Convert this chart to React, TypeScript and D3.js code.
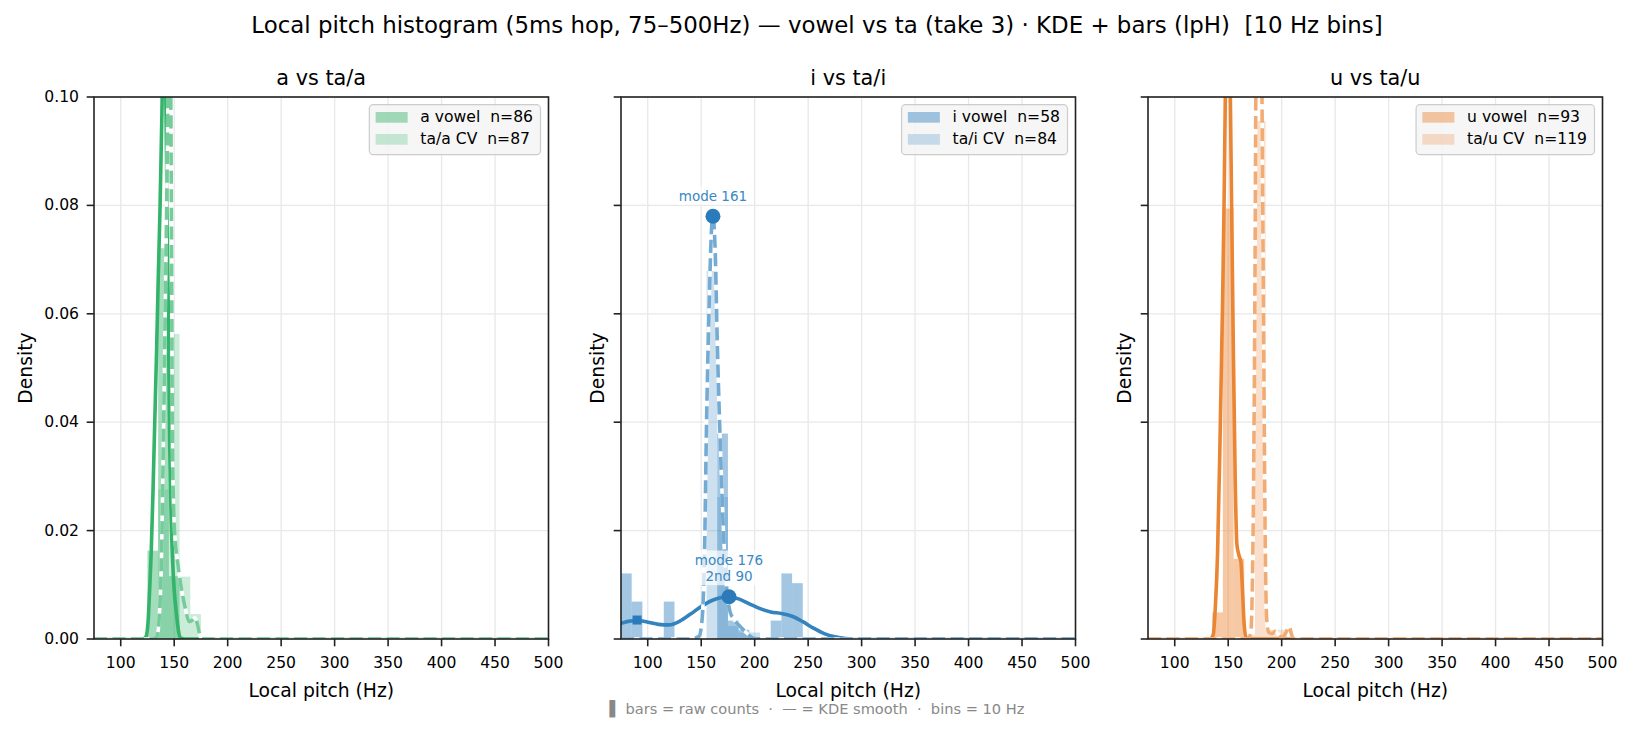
import React from "react";
import * as d3 from "d3";

const W = 1634;
const H = 732;
const FONT = "'DejaVu Sans', sans-serif";

const X_DOMAIN: [number, number] = [75, 500];
const Y_DOMAIN: [number, number] = [0, 0.1];
const X_TICKS = [100, 150, 200, 250, 300, 350, 400, 450, 500];
const Y_TICKS = [0, 0.02, 0.04, 0.06, 0.08, 0.1];
const BIN_W = 10;

const TITLE = "Local pitch histogram (5ms hop, 75–500Hz) — vowel vs ta (take 3) · KDE + bars (lpH)  [10 Hz bins]";
const FOOTER = "▌ bars = raw counts  ·  — = KDE smooth  ·  bins = 10 Hz";

// bins: [left edge Hz, density]
const aVowelBins: [number, number][] = [[125, 0.0163], [135, 0.0721], [145, 0.0116]];
const aCvBins: [number, number][] = [[135, 0.0276], [145, 0.0563], [155, 0.0115], [165, 0.0046]];
const iVowelBins: [number, number][] = [
  [75, 0.0121], [85, 0.0069], [115, 0.0069], [165, 0.0379], [175, 0.0034],
  [185, 0.0017], [215, 0.0034], [225, 0.0121], [235, 0.0103],
];
const iCvBins: [number, number][] = [[155, 0.0679], [165, 0.0262], [175, 0.0024], [185, 0.0012], [195, 0.0012]];
const uVowelBins: [number, number][] = [[135, 0.0049], [145, 0.0794], [155, 0.0148]];
const uCvBins: [number, number][] = [[165, 0.0008], [175, 0.0956], [185, 0.0017], [195, 0.0017]];

// KDE curves: [Hz, density]
const aVowelKde: [number, number][] = [
  [75, 0], [120, 0], [123.5, 0.0004], [125.5, 0.003], [127, 0.009], [128.5, 0.016], [130, 0.026],
  [131.8, 0.04], [133.5, 0.053], [135, 0.066], [136.8, 0.08], [138.5, 0.097], [140.5, 0.12],
  [142.2, 0.1], [143.2, 0.082], [144.4, 0.062], [145.8, 0.036], [147.2, 0.022], [148.5, 0.0145],
  [150, 0.009], [152, 0.0048], [154, 0.0015], [156, 0.0002], [160, 0], [500, 0],
];
const aCvKde: [number, number][] = [
  [75, 0], [130, 0], [134, 0.0005], [136, 0.004], [138, 0.014], [139.7, 0.034], [141.6, 0.06],
  [143.1, 0.082], [144.2, 0.1], [145.5, 0.116], [146.8, 0.1], [147.6, 0.068], [148.4, 0.035],
  [149.5, 0.024], [151, 0.018], [153, 0.0145], [156, 0.0102], [160, 0.006], [164, 0.0032],
  [167, 0.0035], [169.5, 0.0039], [172, 0.0025], [174.5, 0.0004], [178, 0], [500, 0],
];
const iVowelKde: [number, number][] = [
  [75, 0.0029], [83, 0.0033], [91, 0.0034], [100, 0.0031], [110, 0.0027], [120, 0.0026],
  [130, 0.0033], [140, 0.0046], [150, 0.006], [160, 0.0071], [170, 0.0077], [176, 0.0078],
  [185, 0.0074], [195, 0.0065], [205, 0.0056], [215, 0.005], [225, 0.0047], [235, 0.0042],
  [245, 0.0032], [255, 0.002], [265, 0.001], [275, 0.0004], [285, 0.0001], [300, 0], [500, 0],
];
const iCvKde: [number, number][] = [
  [75, 0], [140, 0], [148, 0.0005], [151, 0.004], [153, 0.015], [155, 0.04], [157.5, 0.062],
  [159.5, 0.075], [161, 0.078], [163, 0.072], [165, 0.055], [168, 0.035], [171, 0.019],
  [174, 0.009], [177, 0.005], [180, 0.0038], [186, 0.0024], [192, 0.0012], [200, 0.0001],
  [210, 0], [500, 0],
];
const uVowelKde: [number, number][] = [
  [75, 0], [133, 0], [136, 0.0008], [138, 0.006], [140, 0.0155], [142.2, 0.035], [144.7, 0.0616],
  [146.2, 0.0814], [147.3, 0.1], [149.5, 0.118], [152, 0.1], [153.1, 0.0814], [154.7, 0.055],
  [156.6, 0.0287], [158.1, 0.0175], [160, 0.0155], [161.9, 0.0142], [163.4, 0.0089],
  [165, 0.0025], [167, 0.0002], [170, 0], [500, 0],
];
const uCvKde: [number, number][] = [
  [75, 0], [168, 0], [171, 0.001], [172.5, 0.009], [174, 0.035], [175, 0.065], [175.8, 0.1],
  [178.6, 0.2], [181.6, 0.1], [183, 0.06], [184.4, 0.022], [186, 0.0036], [188, 0.0012],
  [191, 0.001], [194, 0.0014], [197, 0.0009], [200.5, 0.0003], [204, 0.0012], [207, 0.0023],
  [209, 0.001], [211, 0], [500, 0],
];

const iModes = [
  { hz: 161, d: 0.078, lines: ["mode 161"] },
  { hz: 176, d: 0.0078, lines: ["mode 176", "2nd 90"] },
];
const iSecond = { hz: 90, d: 0.0035 };

interface Panel {
  title: string;
  color: string;
  vowelLabel: string;
  cvLabel: string;
  vowelBins: [number, number][];
  cvBins: [number, number][];
  vowelKde: [number, number][];
  cvKde: [number, number][];
  left: number;
}

const PANELS: Panel[] = [
  { title: "a vs ta/a", color: "#34b36a", vowelLabel: "a vowel  n=86", cvLabel: "ta/a CV  n=87",
    vowelBins: aVowelBins, cvBins: aCvBins, vowelKde: aVowelKde, cvKde: aCvKde, left: 94 },
  { title: "i vs ta/i", color: "#3283be", vowelLabel: "i vowel  n=58", cvLabel: "ta/i CV  n=84",
    vowelBins: iVowelBins, cvBins: iCvBins, vowelKde: iVowelKde, cvKde: iCvKde, left: 621 },
  { title: "u vs ta/u", color: "#ea8533", vowelLabel: "u vowel  n=93", cvLabel: "ta/u CV  n=119",
    vowelBins: uVowelBins, cvBins: uCvBins, vowelKde: uVowelKde, cvKde: uCvKde, left: 1148 },
];

const PW = 454.5;
const TOP = 97;
const BOTTOM = 639;

function measure(text: string, size: number) {
  const c = document.createElement("canvas").getContext("2d");
  if (!c) return text.length * size * 0.55;
  c.font = `${size}px 'DejaVu Sans'`;
  return c.measureText(text).width;
}

function PanelView({ p, idx }: { p: Panel; idx: number }) {
  const x = d3.scaleLinear().domain(X_DOMAIN).range([p.left, p.left + PW]);
  const y = d3.scaleLinear().domain(Y_DOMAIN).range([BOTTOM, TOP]);
  const line = d3
    .line<[number, number]>()
    .x((d) => x(d[0]))
    .y((d) => y(d[1]))
    .curve(d3.curveMonotoneX);
  const clipId = `clip-${idx}`;
  const cx = p.left + PW / 2;

  // legend
  const legFs = 15.6;
  const tw = Math.max(measure(p.vowelLabel, legFs), measure(p.cvLabel, legFs));
  const legW = 6.3 + 32 + 12.7 + tw + 7.5;
  const legX = p.left + PW - 8 - legW;
  const legY = TOP + 7.7;

  return (
    <g>
      <defs>
        <clipPath id={clipId}>
          <rect x={p.left} y={TOP} width={PW} height={BOTTOM - TOP} />
        </clipPath>
      </defs>
      {/* grid */}
      {X_TICKS.map((t) => (
        <line key={`gx${t}`} x1={x(t)} x2={x(t)} y1={TOP} y2={BOTTOM} stroke="#e8e8e8" strokeWidth={1.3} />
      ))}
      {Y_TICKS.map((t) => (
        <line key={`gy${t}`} x1={p.left} x2={p.left + PW} y1={y(t)} y2={y(t)} stroke="#e8e8e8" strokeWidth={1.3} />
      ))}
      <g clipPath={`url(#${clipId})`}>
        {p.vowelBins.map(([b, d]) => (
          <rect key={`vb${b}`} x={x(b)} y={y(d)} width={x(b + BIN_W) - x(b)} height={BOTTOM - y(d)}
            fill={p.color} fillOpacity={0.45} />
        ))}
        {p.cvBins.map(([b, d]) => (
          <rect key={`cb${b}`} x={x(b)} y={y(d)} width={x(b + BIN_W) - x(b)} height={BOTTOM - y(d)}
            fill={p.color} fillOpacity={0.25} />
        ))}
        <path d={line(p.vowelKde) ?? ""} fill="none" stroke={p.color} strokeWidth={3.6} strokeLinejoin="round" />
        <path d={line(p.cvKde) ?? ""} fill="none" stroke="#fff" strokeWidth={3.6} strokeLinejoin="round" />
        <path d={line(p.cvKde) ?? ""} fill="none" stroke={p.color} strokeOpacity={0.68} strokeWidth={3.6}
          strokeDasharray="13,5.5" strokeLinejoin="round" />
      </g>
      {idx === 1 && (
        <g>
          <rect x={x(iSecond.hz) - 4.5} y={y(iSecond.d) - 4.5} width={9} height={9} fill="#2b7bba" />
          {iModes.map((m) => {
            const mx = x(m.hz);
            const my = y(m.d);
            const n = m.lines.length;
            const lh = 16.7;
            const w = Math.max(...m.lines.map((l) => measure(l, 13.5)));
            return (
              <g key={`mode${m.hz}`}>
                <rect x={mx - w / 2 - 2} y={my - 20.5 - (n - 1) * lh - 9} width={w + 4} height={(n - 1) * lh + 18}
                  fill="#fff" fillOpacity={0.7} />
                {m.lines.map((l, i) => (
                  <text key={l} x={mx} y={my - 20.5 - (n - 1 - i) * lh} textAnchor="middle" dominantBaseline="central"
                    fontSize={13.5} fill="#3a88c4">{l}</text>
                ))}
                <circle cx={mx} cy={my} r={7.5} fill="#2b7bba" />
              </g>
            );
          })}
        </g>
      )}
      {/* spines */}
      <rect x={p.left} y={TOP} width={PW} height={BOTTOM - TOP} fill="none" stroke="#222" strokeWidth={1.6} />
      {/* x ticks */}
      {X_TICKS.map((t) => (
        <g key={`xt${t}`}>
          <line x1={x(t)} x2={x(t)} y1={BOTTOM} y2={BOTTOM + 7.3} stroke="#222" strokeWidth={1.6} />
          <text x={x(t)} y={BOTTOM + 23.5} textAnchor="middle" dominantBaseline="central" fontSize={15.6}>{t}</text>
        </g>
      ))}
      {Y_TICKS.map((t) => (
        <g key={`yt${t}`}>
          <line x1={p.left - 7.3} x2={p.left} y1={y(t)} y2={y(t)} stroke="#222" strokeWidth={1.6} />
          {idx === 0 && (
            <text x={p.left - 15} y={y(t)} textAnchor="end" dominantBaseline="central" fontSize={15.6}>
              {t.toFixed(2)}
            </text>
          )}
        </g>
      ))}
      <text x={cx} y={690} textAnchor="middle" dominantBaseline="central" fontSize={18.75}>Local pitch (Hz)</text>
      <text transform={`translate(${idx === 0 ? 25 : p.left - 24},${(TOP + BOTTOM) / 2}) rotate(-90)`}
        textAnchor="middle" dominantBaseline="central" fontSize={18.75}>Density</text>
      <text x={cx} y={78} textAnchor="middle" dominantBaseline="central" fontSize={20.8}>{p.title}</text>
      {/* legend */}
      <rect x={legX} y={legY} width={legW} height={50} rx={4} fill="#f5f5f5" fillOpacity={0.85}
        stroke="#cccccc" strokeWidth={1.2} />
      {[p.vowelLabel, p.cvLabel].map((l, i) => (
        <g key={l}>
          <rect x={legX + 6.3} y={legY + 7.3 + i * 22} width={32} height={10.7} fill={p.color}
            fillOpacity={i === 0 ? 0.45 : 0.25} />
          <text x={legX + 51} y={legY + 12.6 + i * 22} dominantBaseline="central" fontSize={legFs}
            style={{ whiteSpace: "pre" }}>{l}</text>
        </g>
      ))}
    </g>
  );
}

export default function App() {
  return (
    <svg width={W} height={H} style={{ position: "absolute", left: 0, top: 0, background: "#fff" }}
      fontFamily={FONT}>
      <rect width={W} height={H} fill="#fff" />
      <text x={W / 2} y={25} textAnchor="middle" dominantBaseline="central" fontSize={22.9}
        style={{ whiteSpace: "pre" }}>{TITLE}</text>
      {PANELS.map((p, i) => (
        <PanelView key={p.title} p={p} idx={i} />
      ))}
      <text x={W / 2} y={708} textAnchor="middle" dominantBaseline="central" fontSize={14.6} fill="#888"
        style={{ whiteSpace: "pre" }}>{FOOTER}</text>
    </svg>
  );
}
